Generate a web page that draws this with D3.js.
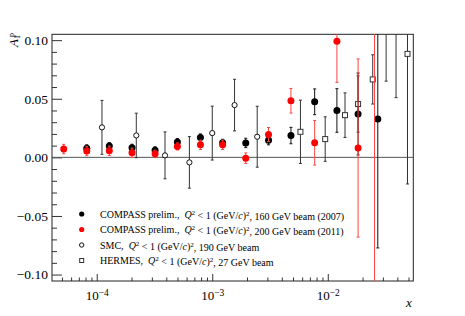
<!DOCTYPE html>
<meta charset="utf-8">
<style>
body{margin:0;background:#fff;}
text{font-family:"Liberation Serif","Times New Roman",serif;fill:#000;}
.axis path{stroke:#333;}
.axis line{stroke:#333;}
</style>
<body>
<script src="https://cdn.jsdelivr.net/npm/d3@7"></script>
<script>

// COMPASS 2007 (160 GeV)
var blackX   = [8.2e-5, 1.285e-4, 2.02e-4, 3.2e-4, 4.99e-4, 7.9e-4, 1.23e-3, 1.95e-3, 3.07e-3, 4.8e-3, 7.7e-3, 0.012, 0.0183, 0.0271];
var blackY   = [0.0077, 0.0096, 0.0082, 0.0060, 0.0130, 0.0170, 0.0124, 0.0123, 0.0147, 0.0186, 0.0474, 0.0400, 0.0370, 0.0327];
var blackErr = [0.003, 0.003, 0.003, 0.003, 0.003, 0.003, 0.003, 0.004, 0.004, 0.007, 0.011, 0.0186, 0.035, 0.110];
// COMPASS 2011 (200 GeV)
var redX   = [5.18e-5, 8.2e-5, 1.285e-4, 2.02e-4, 3.2e-4, 4.99e-4, 7.9e-4, 1.23e-3, 1.95e-3, 3.07e-3, 4.8e-3, 7.7e-3, 0.012, 0.0183, 0.0254];
var redY   = [0.0071, 0.0054, 0.0056, 0.0039, 0.0031, 0.0093, 0.0107, 0.0107, -0.0007, 0.0195, 0.0483, 0.0124, 0.0990, 0.0080, 0.16];
var redErr = [0.004, 0.004, 0.004, 0.004, 0.003, 0.003, 0.004, 0.004, 0.0045, 0.006, 0.0105, 0.019, 0.035, 0.076, 0.40];
// SMC
var smcX   = [1.11e-4, 2.2e-4, 3.9e-4, 6.34e-4, 1.0e-3, 1.56e-3, 2.45e-3];
var smcY   = [0.0256, 0.0187, 0.0017, -0.0043, 0.0207, 0.0446, 0.0176];
var smcErr = [0.023, 0.019, 0.020, 0.022, 0.023, 0.022, 0.026];
// HERMES
var hermesX   = [5.8e-3, 9.5e-3, 0.0141, 0.0183, 0.0245, 0.032, 0.039, 0.049];
var hermesY   = [0.0218, 0.0156, 0.036, 0.0455, 0.0665, 0.125, 0.12, 0.0883];
var hermesErr = [0.027, 0.019, 0.019, 0.024, 0.021, 0.060, 0.069, 0.111];

var yTicks = [-0.10, -0.05, 0.00, 0.05, 0.10];
var xDecades = [1e-4, 1e-3, 1e-2];
var legendBeams = ["160 GeV beam (2007)", "200 GeV beam (2011)", "190 GeV beam", "27 GeV beam"];
var legendNames = ["COMPASS prelim.,", "COMPASS prelim.,", "SMC,", "HERMES,"];

var W = 465, H = 316;
var svg = d3.select("body").append("svg").attr("width", W).attr("height", H);

var x = d3.scaleLog().domain([4.1e-5, 0.055]).range([52, 413.3]);
var y = d3.scaleLinear().domain([-0.1055, 0.105]).range([281, 34.3]);

svg.append("defs").append("clipPath").attr("id","clip")
	.append("rect").attr("x",52).attr("y",34.3).attr("width",361.3).attr("height",246.7);

// y axis: majors with labels, minors without
var yMinor = d3.range(-10, 11).map(d=>d/100).filter(d=>Math.abs(Math.round(d*100))%5!=0);
svg.append("g").attr("class","axis").attr("transform","translate(52,0)")
	.call(d3.axisLeft(y).tickValues(yMinor).tickSize(-5).tickFormat(""))
	.call(g=>g.select(".domain").remove());
svg.append("g").attr("class","axis").attr("transform","translate(52,0)")
	.call(d3.axisLeft(y).tickValues(yTicks).tickSize(-10).tickPadding(4)
		.tickFormat(d=>d3.format(".2f")(d).replace("-","\u2212")))
	.call(g=>g.select(".domain").remove())
	.selectAll("text").style("font-size","13.5px");

// x axis
var xMinor = [];
[1e-5,1e-4,1e-3,1e-2].forEach(function(dec){
	for(var k=2;k<=9;k++){ var v=k*dec; if(v>x.domain()[0] && v<x.domain()[1]) xMinor.push(v); }
});
svg.append("g").attr("class","axis").attr("transform","translate(0,281)")
	.call(d3.axisBottom(x).tickValues(xMinor).tickSize(-3.5).tickFormat(""))
	.call(g=>g.select(".domain").remove());
var xa = svg.append("g").attr("class","axis").attr("transform","translate(0,281)")
	.call(d3.axisBottom(x).tickValues(xDecades).tickSize(-7).tickPadding(10).tickFormat(""))
	.call(g=>g.select(".domain").remove());
xa.selectAll(".tick text").each(function(d){
	var t = d3.select(this).style("font-size","13px").attr("dy","0.71em");
	t.append("tspan").text("10");
	t.append("tspan").attr("dy","-0.45em").style("font-size","9.5px").text("\u2212"+Math.round(-Math.log10(d)));
});

// frame and zero line
svg.append("rect").attr("x",52).attr("y",34.3).attr("width",361.3).attr("height",246.7)
	.attr("fill","none").attr("stroke","#222").attr("stroke-width",1);
svg.append("line").attr("x1",52).attr("x2",413.3).attr("y1",y(0)).attr("y2",y(0))
	.attr("stroke","#555").attr("stroke-width",1);

var plot = svg.append("g").attr("clip-path","url(#clip)");

function series(xs, ys, es, barColor, marker){
	var pts = xs.map((v,i)=>({x:v, y:ys[i], e:es[i]}));
	var g = plot.append("g");
	g.selectAll("line.bar").data(pts).enter().append("line")
		.attr("x1",d=>x(d.x)).attr("x2",d=>x(d.x))
		.attr("y1",d=>y(d.y+d.e)).attr("y2",d=>y(d.y-d.e))
		.attr("stroke",barColor).attr("stroke-width",1);
	pts.forEach(function(d){
		[d.y+d.e, d.y-d.e].forEach(function(v){
			g.append("line").attr("x1",x(d.x)-1.5).attr("x2",x(d.x)+1.5)
				.attr("y1",y(v)).attr("y2",y(v)).attr("stroke",barColor).attr("stroke-width",1);
		});
	});
	marker(g.selectAll("g.m").data(pts).enter().append("g")
		.attr("transform",d=>"translate("+x(d.x)+","+y(d.y)+")"));
}
function filled(col,r){ return s=>s.append("circle").attr("r",r).attr("fill",col); }
function openCircle(s){ s.append("circle").attr("r",2.6).attr("fill","#fff").attr("stroke","#111").attr("stroke-width",1); }
function openSquare(s){ s.append("rect").attr("x",-2.5).attr("y",-2.5).attr("width",5).attr("height",5).attr("fill","#fff").attr("stroke","#333").attr("stroke-width",1); }

series(smcX, smcY, smcErr, "#333", openCircle);
series(hermesX, hermesY, hermesErr, "#333", openSquare);
series(blackX, blackY, blackErr, "#111", filled("#000",3.5));
series(redX, redY, redErr, "#f44", filled("#f00",3.5));

// legend
var leg = svg.append("g");
var legMarkers = [filled("#000",2.6), filled("#f00",2.6), openCircle, openSquare];
legendNames.forEach(function(name,i){
	var yy = 214 + i*15.5;
	var mg = leg.append("g").attr("transform","translate(81.7,"+yy+")");
	if(i==2) mg.append("circle").attr("r",2.2).attr("fill","#fff").attr("stroke","#111");
	else if(i==3) mg.append("rect").attr("x",-2).attr("y",-2).attr("width",4).attr("height",4).attr("fill","#fff").attr("stroke","#333");
	else legMarkers[i](mg);
	var t = leg.append("text").attr("x",100).attr("y",yy+3.5).style("font-size","10px");
	t.append("tspan").text(name);
	t.append("tspan").attr("dx","5").style("font-style","italic").text("Q");
	t.append("tspan").attr("dy","-0.4em").style("font-size","7px").text("2");
	t.append("tspan").attr("dy","0.4em").text(" < 1 (GeV/");
	t.append("tspan").style("font-style","italic").text("c");
	t.append("tspan").text(")");
	t.append("tspan").attr("dy","-0.4em").style("font-size","7px").text("2");
	t.append("tspan").attr("dy","0.4em").text(", "+legendBeams[i]);
});

// axis titles
svg.append("text").attr("x",409).attr("y",307).attr("text-anchor","middle")
	.style("font-size","13px").style("font-style","italic").text("x");
var yt = svg.append("text").attr("transform","translate(18,33) rotate(-90)")
	.attr("text-anchor","end").style("font-size","13px");
yt.append("tspan").style("font-style","italic").text("A");
yt.append("tspan").attr("dy","0.3em").style("font-size","8px").text("1");
yt.append("tspan").attr("dx","-0.25em").attr("dy","-0.85em").style("font-size","8px").text("p");

</script>
</body>
</html>
